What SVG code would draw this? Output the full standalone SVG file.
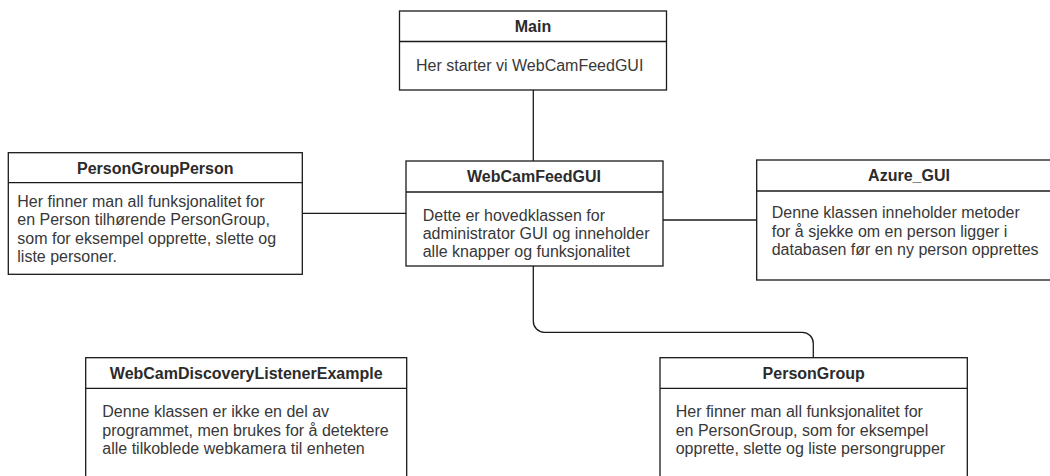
<svg xmlns="http://www.w3.org/2000/svg" width="1050" height="476" viewBox="0 0 1050 476">
<style>
.box{fill:#fff;stroke:#1a1a1a;stroke-width:1.3}
.sep{stroke:#1a1a1a;stroke-width:1.3}
.conn{fill:none;stroke:#1a1a1a;stroke-width:1.3}
.title{font-family:"Liberation Sans",Arial,sans-serif;font-size:16px;font-weight:bold;fill:#2b2b2b;text-anchor:middle}
.body{font-family:"Liberation Sans",Arial,sans-serif;font-size:16px;fill:#383838}
</style>
<rect width="1050" height="476" fill="#fff"/>
<g id="connectors">
<path class="conn" d="M533.3 90 V161"/>
<path class="conn" d="M302.3 213.3 H406"/>
<path class="conn" d="M663 220 H756.7"/>
<path class="conn" d="M533.3 266 V321.3 A11 11 0 0 0 544.3 332.3 H802.3 A11 11 0 0 1 813.3 343.3 V357.7"/>
</g>
<g id="main">
<rect class="box" x="399.5" y="11" width="267" height="79"/>
<line class="sep" x1="399.5" y1="41.5" x2="666.5" y2="41.5"/>
<text class="title" x="533" y="32">Main</text>
<text class="body" x="416" y="71">Her starter vi WebCamFeedGUI</text>
</g>
<g id="webcamfeedgui">
<rect class="box" x="406" y="161" width="257" height="105"/>
<line class="sep" x1="406" y1="192" x2="663" y2="192"/>
<text class="title" x="534" y="182">WebCamFeedGUI</text>
<text class="body" x="422.7" y="220.5">Dette er hovedklassen for</text>
<text class="body" x="422.7" y="238.9">administrator GUI og inneholder</text>
<text class="body" x="422.7" y="257.3">alle knapper og funksjonalitet</text>
</g>
<g id="persongroupperson">
<rect class="box" x="8.3" y="152.7" width="294" height="121.6"/>
<line class="sep" x1="8.3" y1="182.7" x2="302.3" y2="182.7"/>
<text class="title" x="155.3" y="174">PersonGroupPerson</text>
<text class="body" x="17.3" y="206.7">Her finner man all funksjonalitet for</text>
<text class="body" x="17.3" y="225.1">en Person tilhørende PersonGroup,</text>
<text class="body" x="17.3" y="243.5">som for eksempel opprette, slette og</text>
<text class="body" x="17.3" y="261.9">liste personer.</text>
</g>
<g id="azure_gui">
<rect class="box" x="756.7" y="160" width="305" height="120"/>
<line class="sep" x1="756.7" y1="191" x2="1061.7" y2="191"/>
<text class="title" x="909" y="181">Azure_GUI</text>
<text class="body" x="771.7" y="218.3">Denne klassen inneholder metoder</text>
<text class="body" x="771.7" y="236.7">for å sjekke om en person ligger i</text>
<text class="body" x="771.7" y="255.1">databasen før en ny person opprettes</text>
</g>
<g id="webcamdiscoverylistenerexample">
<rect class="box" x="85.7" y="357.7" width="321" height="140"/>
<line class="sep" x1="85.7" y1="388.3" x2="406.7" y2="388.3"/>
<text class="title" x="246.2" y="379">WebCamDiscoveryListenerExample</text>
<text class="body" x="102.3" y="417.3">Denne klassen er ikke en del av</text>
<text class="body" x="102.3" y="435.7">programmet, men brukes for å detektere</text>
<text class="body" x="102.3" y="454.1">alle tilkoblede webkamera til enheten</text>
</g>
<g id="persongroup">
<rect class="box" x="660" y="357.7" width="307.3" height="140"/>
<line class="sep" x1="660" y1="388.3" x2="967.3" y2="388.3"/>
<text class="title" x="813.7" y="379">PersonGroup</text>
<text class="body" x="675.7" y="417.3">Her finner man all funksjonalitet for</text>
<text class="body" x="675.7" y="435.7">en PersonGroup, som for eksempel</text>
<text class="body" x="675.7" y="454.1">opprette, slette og liste persongrupper</text>
</g>
</svg>
